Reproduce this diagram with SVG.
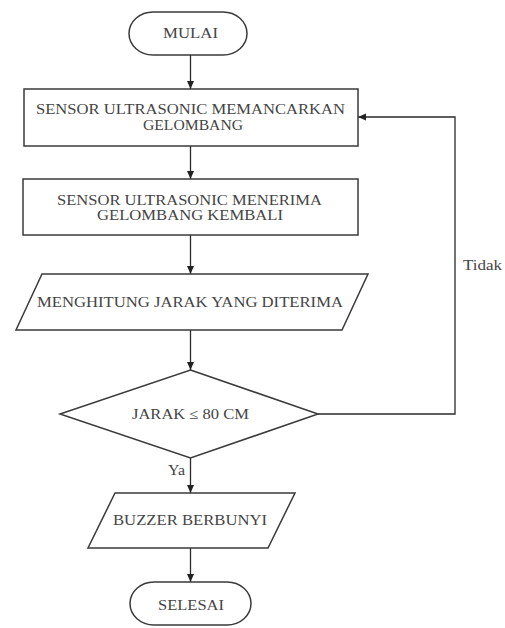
<svg xmlns="http://www.w3.org/2000/svg" width="505" height="628" viewBox="0 0 505 628">
<defs>
<marker id="arr" markerWidth="10" markerHeight="10" refX="9" refY="5" orient="auto" markerUnits="userSpaceOnUse">
<path d="M1,1.5 L9,5 L1,8.5 Z" fill="#222"/>
</marker>
<style>
.s{fill:#fff;stroke:#3a3a3a;stroke-width:1.5}
.t{font-family:"Liberation Serif","Times New Roman",serif;font-size:14.5px;fill:#444;text-anchor:middle}
.l{font-family:"Liberation Serif","Times New Roman",serif;font-size:14.5px;fill:#444}
.c{fill:none;stroke:#2a2a2a;stroke-width:1.3}
</style>
</defs>
<rect width="505" height="628" fill="#fff"/>
<g id="connectors">
<line class="c" x1="190.5" y1="55" x2="190.5" y2="89" marker-end="url(#arr)"/>
<line class="c" x1="190.5" y1="146" x2="190.5" y2="179" marker-end="url(#arr)"/>
<line class="c" x1="190.5" y1="235" x2="190.5" y2="274" marker-end="url(#arr)"/>
<line class="c" x1="190.5" y1="330" x2="190.5" y2="370" marker-end="url(#arr)"/>
<line class="c" x1="190.5" y1="458" x2="190.5" y2="493" marker-end="url(#arr)"/>
<line class="c" x1="190.5" y1="548" x2="190.5" y2="582" marker-end="url(#arr)"/>
<polyline class="c" points="318,414 455,414 455,117 358,117" marker-end="url(#arr)"/>
<text class="l" x="463" y="270" textLength="39" lengthAdjust="spacingAndGlyphs">Tidak</text>
<text class="l" x="168" y="475" textLength="17" lengthAdjust="spacingAndGlyphs">Ya</text>
</g>
<g id="mulai">
<rect class="s" x="129" y="12" width="118" height="43" rx="24" ry="21.5"/>
<text class="t" x="190.5" y="38" textLength="55" lengthAdjust="spacingAndGlyphs">MULAI</text>
</g>
<g id="pancar">
<rect class="s" x="24" y="89" width="334" height="57"/>
<text class="t" x="190.5" y="114" textLength="309" lengthAdjust="spacingAndGlyphs">SENSOR ULTRASONIC MEMANCARKAN</text>
<text class="t" x="193" y="130" textLength="100" lengthAdjust="spacingAndGlyphs">GELOMBANG</text>
</g>
<g id="terima">
<rect class="s" x="23" y="179" width="335" height="56"/>
<text class="t" x="189.5" y="205" textLength="265" lengthAdjust="spacingAndGlyphs">SENSOR ULTRASONIC MENERIMA</text>
<text class="t" x="190" y="220" textLength="186" lengthAdjust="spacingAndGlyphs">GELOMBANG KEMBALI</text>
</g>
<g id="hitung">
<polygon class="s" points="42,274 368,274 342,330 16,330"/>
<text class="t" x="190" y="307" textLength="306" lengthAdjust="spacingAndGlyphs">MENGHITUNG JARAK YANG DITERIMA</text>
</g>
<g id="jarak">
<polygon class="s" points="190.5,370 318,414 190.5,458 60,414"/>
<text class="t" x="190.5" y="419" textLength="117" lengthAdjust="spacingAndGlyphs">JARAK ≤ 80 CM</text>
</g>
<g id="buzzer">
<polygon class="s" points="115,493 295,493 268,548 88,548"/>
<text class="t" x="190" y="525" textLength="154" lengthAdjust="spacingAndGlyphs">BUZZER BERBUNYI</text>
</g>
<g id="selesai">
<rect class="s" x="130" y="582" width="121" height="43" rx="24" ry="21.5"/>
<text class="t" x="191" y="610" textLength="66" lengthAdjust="spacingAndGlyphs">SELESAI</text>
</g>
</svg>
